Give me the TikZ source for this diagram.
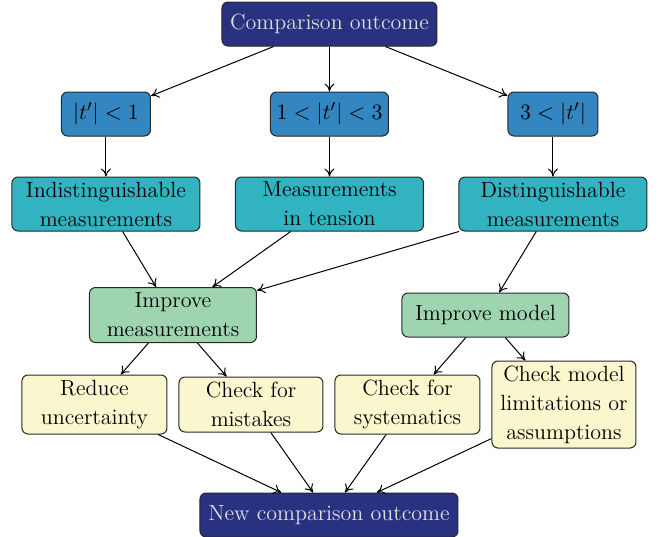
\documentclass[tikz,border=0pt]{standalone}
\usetikzlibrary{arrows.meta}
\definecolor{navyc}{RGB}{41,50,128}
\definecolor{bluec}{RGB}{52,134,192}
\definecolor{tealc}{RGB}{49,179,194}
\definecolor{greenc}{RGB}{158,212,176}
\definecolor{yellowc}{RGB}{250,246,206}
\definecolor{edgec}{RGB}{40,40,40}
\begin{document}
\begin{tikzpicture}[x=0.5pt,y=-0.5pt,
  box/.style={draw=edgec,line width=0.5pt,rounded corners=3pt,align=center,inner sep=0pt,
    font=\fontsize{11}{14.5}\selectfont},
  navybox/.style={box,fill=navyc,text=white!88!black,minimum width=107.5pt,minimum height=22pt},
  bluebox/.style={box,fill=bluec,minimum height=22pt},
  tealbox/.style={box,fill=tealc,minimum width=94pt,minimum height=27pt},
  greenbox/.style={box,fill=greenc,minimum width=83.5pt},
  yellowbox/.style={box,fill=yellowc,minimum width=72.5pt},
  arr/.style={-{To[length=4pt,width=5pt]},line width=0.5pt,draw=black}]
\useasboundingbox (0,0) rectangle (661,537);
\node[navybox] (top) at (329.5,24) {Comparison outcome};
\node[bluebox,minimum width=44.5pt] (b1) at (106,114) {$|t'|<1$};
\node[bluebox,minimum width=59pt] (b2) at (329.5,114) {$1<|t'|<3$};
\node[bluebox,minimum width=45pt] (b3) at (553,114) {$3<|t'|$};
\node[tealbox] (t1) at (106,204) {Indistinguishable\\measurements};
\node[tealbox] (t2) at (329.5,204) {Measurements\\in tension};
\node[tealbox] (t3) at (553,204) {Distinguishable\\measurements};
\node[greenbox,minimum height=27.5pt] (g1) at (173,315) {Improve\\measurements};
\node[greenbox,minimum height=22pt] (g2) at (485.5,315) {Improve model};
\node[yellowbox,minimum height=29.5pt] (y1) at (94.5,404.5) {Reduce\\uncertainty};
\node[yellowbox,minimum height=27.5pt,minimum width=72pt] (y2) at (251,404.5) {Check for\\mistakes};
\node[yellowbox,minimum height=29.5pt] (y3) at (407.5,404.5) {Check for\\systematics};
\node[yellowbox,minimum height=43.5pt,minimum width=72pt] (y4) at (564,404.5) {Check model\\limitations or\\assumptions};
\node[navybox,minimum width=129pt] (bot) at (329,515) {New comparison outcome};
\draw[arr] (top) -- (b1);
\draw[arr] (top) -- (b2);
\draw[arr] (top) -- (b3);
\draw[arr] (b1) -- (t1);
\draw[arr] (b2) -- (t2);
\draw[arr] (b3) -- (t3);
\draw[arr] (t1) -- (g1);
\draw[arr] (t2) -- (g1);
\draw[arr] (t3) -- (g1);
\draw[arr] (t3) -- (g2);
\draw[arr] (g1) -- (y1);
\draw[arr] (g1) -- (y2);
\draw[arr] (g2) -- (y3);
\draw[arr] (g2) -- (y4);
\draw[arr] (y1) -- (bot);
\draw[arr] (y2) -- (bot);
\draw[arr] (y3) -- (bot);
\draw[arr] (y4) -- (bot);
\end{tikzpicture}
\end{document}
